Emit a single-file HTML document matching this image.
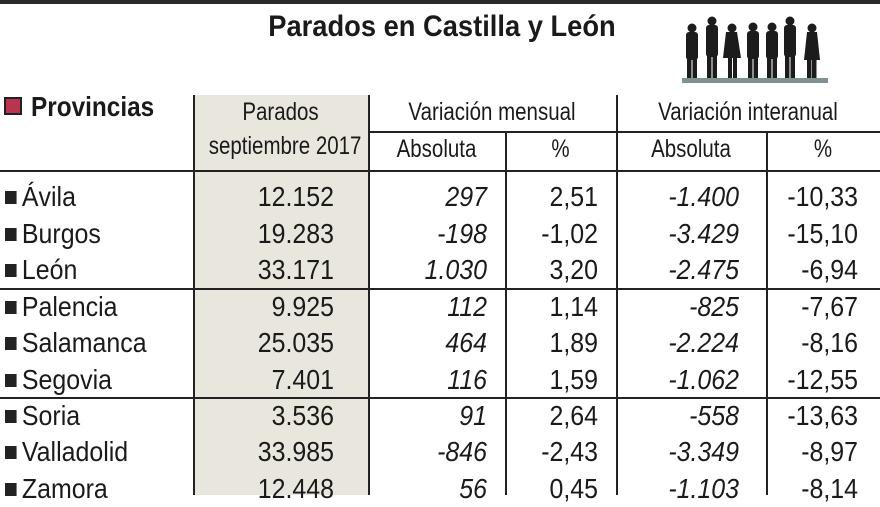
<!DOCTYPE html>
<html><head><meta charset="utf-8"><style>
*{margin:0;padding:0;box-sizing:border-box}
body{width:880px;height:495px;overflow:hidden;background:#fff;position:relative;font-family:"Liberation Sans",sans-serif;color:#1a1a1a}
.a{position:absolute;white-space:nowrap;line-height:36px;height:36px;font-size:28px}
.r{transform:scaleX(.89);transform-origin:right center;text-align:right}
.l{transform:scaleX(.89);transform-origin:left center}
.c{transform:scaleX(.82);transform-origin:center center;text-align:center}
.h{font-size:25px}
.i{font-style:italic}
.ln{position:absolute;background:#222}
.sq{display:inline-block;width:13px;height:13px;background:#222;margin-right:6px;vertical-align:2px}
</style></head><body>
<div class="ln" style="left:0;top:0;width:880px;height:4px;background:#2a2a2a"></div>
<div class="a" style="left:0;width:884px;top:9px;font-weight:bold;font-size:30px;text-align:center;transform:scaleX(.91);transform-origin:442px 0">Parados en Castilla y León</div>
<svg style="position:absolute;left:680px;top:14px" width="150" height="72">
<rect x="2" y="64" width="146" height="5" fill="#7f9292"/>
<g fill="#1c1c1c">
<g transform="translate(12,0)"><circle cx="0" cy="14" r="4.5"/><rect x="-6" y="18" width="12" height="28" rx="3"/><rect x="-5" y="44" width="4.5" height="20"/><rect x="0.5" y="44" width="4.5" height="20"/></g>
<g transform="translate(32,0)"><circle cx="0" cy="7" r="4.5"/><rect x="-6" y="11" width="12" height="32" rx="3"/><rect x="-5" y="42" width="4.5" height="22"/><rect x="0.5" y="42" width="4.5" height="22"/></g>
<g transform="translate(52,0)"><circle cx="0" cy="14" r="4.5"/><path d="M-6 18h11l4 26h-18z"/><rect x="-4" y="44" width="4" height="20"/><rect x="1" y="44" width="4" height="20"/></g>
<g transform="translate(73,0)"><circle cx="0" cy="13" r="4.5"/><rect x="-6" y="17" width="12" height="28" rx="3"/><rect x="-5" y="44" width="4.5" height="20"/><rect x="0.5" y="44" width="4.5" height="20"/></g>
<g transform="translate(92,0)"><circle cx="0" cy="13" r="4.5"/><rect x="-6" y="17" width="12" height="28" rx="3"/><rect x="-5" y="44" width="4.5" height="20"/><rect x="0.5" y="44" width="4.5" height="20"/></g>
<g transform="translate(110,0)"><circle cx="0" cy="7" r="4.5"/><rect x="-6" y="11" width="12" height="32" rx="3"/><rect x="-5" y="42" width="4.5" height="22"/><rect x="0.5" y="42" width="4.5" height="22"/></g>
<g transform="translate(132,0)"><circle cx="0" cy="14" r="4.5"/><path d="M-5 18h10l3 28h-16z"/><rect x="-5" y="44" width="4.5" height="20"/><rect x="0" y="44" width="4.5" height="20"/></g>
</g></svg>
<div style="position:absolute;left:193px;top:95px;width:175px;height:400px;background:#e9e7dd"></div>
<div class="ln" style="left:193px;top:95px;width:1.5px;height:400px"></div>
<div class="ln" style="left:368px;top:95px;width:1.5px;height:400px"></div>
<div class="ln" style="left:616px;top:95px;width:1.5px;height:400px"></div>
<div class="ln" style="left:505px;top:132px;width:1.5px;height:363px"></div>
<div class="ln" style="left:766px;top:132px;width:1.5px;height:363px"></div>
<div class="ln" style="left:368px;top:131px;width:512px;height:1.5px"></div>
<div class="ln" style="left:0;top:170px;width:880px;height:1.5px"></div>
<div class="ln" style="left:0;top:288px;width:880px;height:1.5px"></div>
<div class="ln" style="left:0;top:397px;width:880px;height:1.5px"></div>
<div style="position:absolute;left:4px;top:97px;width:18px;height:18px;background:#222;padding:2px"><div style="width:14px;height:14px;background:#b8344f"></div></div>
<div class="a" style="left:31px;top:89px;font-weight:bold;font-size:28px;transform:scaleX(.87);transform-origin:left center">Provincias</div>
<div class="a c h" style="left:193px;width:175px;top:94px">Parados</div>
<div class="a c h" style="left:193px;width:175px;top:128px">septiembre 2017</div>
<div class="a c h" style="left:368px;width:248px;top:94px">Variación mensual</div>
<div class="a c h" style="left:616px;width:264px;top:94px">Variación interanual</div>
<div class="a c h" style="left:368px;width:137px;top:131px">Absoluta</div>
<div class="a c h" style="left:505px;width:111px;top:131px">%</div>
<div class="a c h" style="left:616px;width:150px;top:131px">Absoluta</div>
<div class="a c h" style="left:766px;width:114px;top:131px">%</div>

<div class="a l" style="left:5px;top:179px"><span class="sq"></span>Ávila</div>
<div class="a r" style="left:200px;width:134px;top:179px">12.152</div>
<div class="a r i" style="left:380px;width:107px;top:179px">297</div>
<div class="a r" style="left:510px;width:88px;top:179px">2,51</div>
<div class="a r i" style="left:620px;width:119px;top:179px">-1.400</div>
<div class="a r" style="left:770px;width:88px;top:179px">-10,33</div>

<div class="a l" style="left:5px;top:216px"><span class="sq"></span>Burgos</div>
<div class="a r" style="left:200px;width:134px;top:216px">19.283</div>
<div class="a r i" style="left:380px;width:107px;top:216px">-198</div>
<div class="a r" style="left:510px;width:88px;top:216px">-1,02</div>
<div class="a r i" style="left:620px;width:119px;top:216px">-3.429</div>
<div class="a r" style="left:770px;width:88px;top:216px">-15,10</div>

<div class="a l" style="left:5px;top:252px"><span class="sq"></span>León</div>
<div class="a r" style="left:200px;width:134px;top:252px">33.171</div>
<div class="a r i" style="left:380px;width:107px;top:252px">1.030</div>
<div class="a r" style="left:510px;width:88px;top:252px">3,20</div>
<div class="a r i" style="left:620px;width:119px;top:252px">-2.475</div>
<div class="a r" style="left:770px;width:88px;top:252px">-6,94</div>

<div class="a l" style="left:5px;top:289px"><span class="sq"></span>Palencia</div>
<div class="a r" style="left:200px;width:134px;top:289px">9.925</div>
<div class="a r i" style="left:380px;width:107px;top:289px">112</div>
<div class="a r" style="left:510px;width:88px;top:289px">1,14</div>
<div class="a r i" style="left:620px;width:119px;top:289px">-825</div>
<div class="a r" style="left:770px;width:88px;top:289px">-7,67</div>

<div class="a l" style="left:5px;top:325px"><span class="sq"></span>Salamanca</div>
<div class="a r" style="left:200px;width:134px;top:325px">25.035</div>
<div class="a r i" style="left:380px;width:107px;top:325px">464</div>
<div class="a r" style="left:510px;width:88px;top:325px">1,89</div>
<div class="a r i" style="left:620px;width:119px;top:325px">-2.224</div>
<div class="a r" style="left:770px;width:88px;top:325px">-8,16</div>

<div class="a l" style="left:5px;top:362px"><span class="sq"></span>Segovia</div>
<div class="a r" style="left:200px;width:134px;top:362px">7.401</div>
<div class="a r i" style="left:380px;width:107px;top:362px">116</div>
<div class="a r" style="left:510px;width:88px;top:362px">1,59</div>
<div class="a r i" style="left:620px;width:119px;top:362px">-1.062</div>
<div class="a r" style="left:770px;width:88px;top:362px">-12,55</div>

<div class="a l" style="left:5px;top:398px"><span class="sq"></span>Soria</div>
<div class="a r" style="left:200px;width:134px;top:398px">3.536</div>
<div class="a r i" style="left:380px;width:107px;top:398px">91</div>
<div class="a r" style="left:510px;width:88px;top:398px">2,64</div>
<div class="a r i" style="left:620px;width:119px;top:398px">-558</div>
<div class="a r" style="left:770px;width:88px;top:398px">-13,63</div>

<div class="a l" style="left:5px;top:434px"><span class="sq"></span>Valladolid</div>
<div class="a r" style="left:200px;width:134px;top:434px">33.985</div>
<div class="a r i" style="left:380px;width:107px;top:434px">-846</div>
<div class="a r" style="left:510px;width:88px;top:434px">-2,43</div>
<div class="a r i" style="left:620px;width:119px;top:434px">-3.349</div>
<div class="a r" style="left:770px;width:88px;top:434px">-8,97</div>

<div class="a l" style="left:5px;top:471px"><span class="sq"></span>Zamora</div>
<div class="a r" style="left:200px;width:134px;top:471px">12.448</div>
<div class="a r i" style="left:380px;width:107px;top:471px">56</div>
<div class="a r" style="left:510px;width:88px;top:471px">0,45</div>
<div class="a r i" style="left:620px;width:119px;top:471px">-1.103</div>
<div class="a r" style="left:770px;width:88px;top:471px">-8,14</div>
</body></html>
